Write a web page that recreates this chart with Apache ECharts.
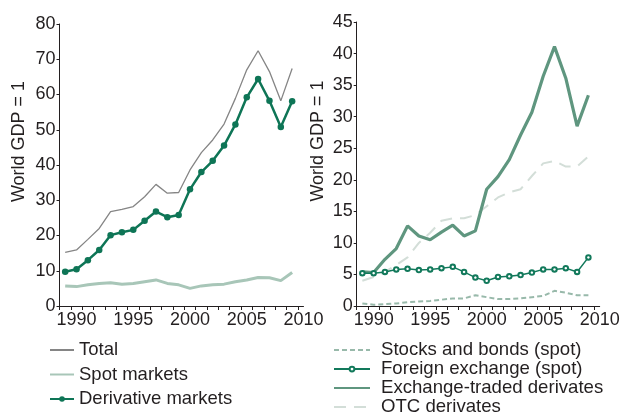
<!DOCTYPE html>
<html>
<head>
<meta charset="utf-8">
<script src="https://cdn.jsdelivr.net/npm/echarts@6/dist/echarts.min.js"></script>
<style>
  html, body { margin: 0; padding: 0; background: #fff; }
  #chart { width: 626px; height: 412px; }
</style>
</head>
<body>
<div id="chart"></div>
<script>
// years shown as bands on both panels
const years = [1989, 1990, 1991, 1992, 1993, 1994, 1995, 1996, 1997, 1998, 1999,
  2000, 2001, 2002, 2003, 2004, 2005, 2006, 2007, 2008, 2009]
const yearLabels = [1990, 1995, 2000, 2005, 2010]

// left panel
const total = [15.2, 15.9, 18.9, 22.0, 26.8, 27.4, 28.2, 31.0, 34.5, 32.0, 32.2,
  38.6, 43.5, 47.1, 51.6, 58.9, 67.0, 72.4, 66.5, 58.2, 67.4]
const spotMarkets = [5.7, 5.5, 6.0, 6.4, 6.6, 6.2, 6.4, 6.9, 7.4, 6.4, 6.0,
  5.0, 5.7, 6.0, 6.2, 6.9, 7.4, 8.1, 8.0, 7.2, 9.5]
const derivativeMarkets = [9.7, 10.4, 13.0, 15.9, 20.1, 20.9, 21.6, 24.2, 26.8, 25.2, 25.8,
  33.1, 38.0, 41.2, 45.5, 51.5, 59.2, 64.4, 58.2, 50.8, 58.1]

// right panel
const stocksBonds = [0.4, 0.2, 0.3, 0.4, 0.6, 0.7, 0.8, 1.0, 1.2, 1.2, 1.7,
  1.4, 1.1, 1.1, 1.2, 1.4, 1.6, 2.4, 2.1, 1.7, 1.7]
const foreignExchange = [5.2, 5.2, 5.4, 5.8, 5.9, 5.7, 5.8, 6.0, 6.2, 5.4, 4.5,
  4.0, 4.6, 4.7, 4.9, 5.3, 5.8, 5.8, 6.0, 5.4, 7.7]
const exchangeTraded = [5.4, 5.3, 7.4, 9.1, 12.7, 11.1, 10.5, 11.7, 12.8, 11.1, 11.9,
  18.5, 20.5, 23.2, 27.1, 30.7, 36.4, 41.1, 36.1, 28.5, 33.4]
const otcDerivates = [4.0, 4.6, 5.4, 6.5, 7.7, 10.0, 11.6, 13.5, 13.9, 13.9, 14.4,
  15.8, 17.2, 18.0, 18.5, 20.6, 22.6, 23.0, 22.1, 22.1, 23.7]

const font = '"Liberation Sans", Arial, sans-serif'
const textColor = '#231f20'
const axisColor = '#231f20'

// band edges for the year ticks
const bandEdges = years.map(y => y - 0.5).concat(years[years.length - 1] + 0.5)
const pairs = (vals) => vals.map((v, i) => [years[i], v])

const chart = echarts.init(document.getElementById('chart'), null, { renderer: 'canvas' })

const xAxisFor = (gridIndex) => ({
  type: 'value',
  gridIndex,
  min: years[0] - 0.5,
  max: yearLabels[yearLabels.length - 1],
  splitLine: { show: false },
  axisLine: { onZero: false, lineStyle: { color: axisColor, width: 1 } },
  axisTick: { show: true, length: 4, customValues: bandEdges, lineStyle: { color: axisColor } },
  axisLabel: {
    customValues: yearLabels,
    formatter: (v) => String(v),
    margin: 5,
    color: textColor,
    fontSize: 18,
    fontFamily: font,
    showMinLabel: true,
    showMaxLabel: true,
    hideOverlap: false
  }
})

const yAxisFor = (gridIndex, max, interval) => ({
  type: 'value',
  gridIndex,
  min: 0,
  max,
  interval,
  splitLine: { show: false },
  axisLine: { show: true, lineStyle: { color: axisColor, width: 1 } },
  axisTick: { show: true, length: 3, lineStyle: { color: axisColor } },
  axisLabel: { margin: 4, color: textColor, fontSize: 18, fontFamily: font }
})

// legend entries without a marker
const plain = (name) => ({ name, itemStyle: { opacity: 0 } })

const option = {
  backgroundColor: '#fff',
  animation: false,
  grid: [
    { left: 59.5, top: 24, width: 244, height: 282, containLabel: false },
    { left: 356.7, top: 22, width: 243, height: 284, containLabel: false }
  ],
  xAxis: [xAxisFor(0), xAxisFor(1)],
  yAxis: [yAxisFor(0, 80, 10), yAxisFor(1, 45, 5)],
  graphic: [
    {
      type: 'text', x: 19, y: 141.5, rotation: Math.PI / 2,
      style: { text: 'World GDP = 1', fill: textColor, font: '18px ' + font, align: 'center', verticalAlign: 'middle' }
    },
    {
      type: 'text', x: 318, y: 141, rotation: Math.PI / 2,
      style: { text: 'World GDP = 1', fill: textColor, font: '18px ' + font, align: 'center', verticalAlign: 'middle' }
    }
  ],
  legend: [
    {
      orient: 'vertical',
      left: 49,
      top: 340.5,
      height: 90,
      padding: 0,
      itemWidth: 24,
      itemHeight: 7,
      itemGap: 5.5,
      textStyle: { color: textColor, fontSize: 18.5, fontFamily: font, lineHeight: 19 },
      data: [plain('Total'), plain('Spot markets'), 'Derivative markets']
    },
    {
      orient: 'vertical',
      left: 333,
      top: 340.6,
      height: 90,
      padding: 0,
      itemWidth: 36,
      itemHeight: 6,
      itemGap: 0,
      textStyle: { color: textColor, fontSize: 18.6, fontFamily: font, lineHeight: 18.7, padding: [0, 0, 0, 6] },
      data: [plain('Stocks and bonds (spot)'), 'Foreign exchange (spot)',
        plain('Exchange-traded derivates'), plain('OTC derivates')]
    }
  ],
  series: [
    {
      name: 'Spot markets', type: 'line', xAxisIndex: 0, yAxisIndex: 0,
      symbol: 'none', color: '#a8c6b8',
      lineStyle: { width: 3, color: '#a8c6b8' },
      data: pairs(spotMarkets)
    },
    {
      name: 'Total', type: 'line', xAxisIndex: 0, yAxisIndex: 0,
      symbol: 'none', color: '#858585',
      lineStyle: { width: 1.3, color: '#858585' },
      data: pairs(total)
    },
    {
      name: 'Derivative markets', type: 'line', xAxisIndex: 0, yAxisIndex: 0,
      symbol: 'circle', symbolSize: 6.5, color: '#0e7556',
      itemStyle: { color: '#0e7556' },
      lineStyle: { width: 2.5, color: '#0e7556' },
      data: pairs(derivativeMarkets)
    },
    {
      name: 'OTC derivates', type: 'line', xAxisIndex: 1, yAxisIndex: 1,
      symbol: 'none', color: '#d3ded8',
      lineStyle: { width: 2, color: '#d3ded8', type: [12, 8] },
      data: pairs(otcDerivates)
    },
    {
      name: 'Stocks and bonds (spot)', type: 'line', xAxisIndex: 1, yAxisIndex: 1,
      symbol: 'none', color: '#98b9aa',
      lineStyle: { width: 2, color: '#98b9aa', type: [5, 3] },
      data: pairs(stocksBonds)
    },
    {
      name: 'Exchange-traded derivates', type: 'line', xAxisIndex: 1, yAxisIndex: 1,
      symbol: 'none', color: '#5f967f',
      lineStyle: { width: 3.2, color: '#5f967f' },
      data: pairs(exchangeTraded)
    },
    {
      name: 'Foreign exchange (spot)', type: 'line', xAxisIndex: 1, yAxisIndex: 1,
      symbol: 'emptyCircle', symbolSize: 4.5, color: '#12795b',
      itemStyle: { color: '#12795b', borderWidth: 1 },
      lineStyle: { width: 1.5, color: '#12795b' },
      data: pairs(foreignExchange)
    }
  ]
}

chart.setOption(option)
</script>
</body>
</html>
